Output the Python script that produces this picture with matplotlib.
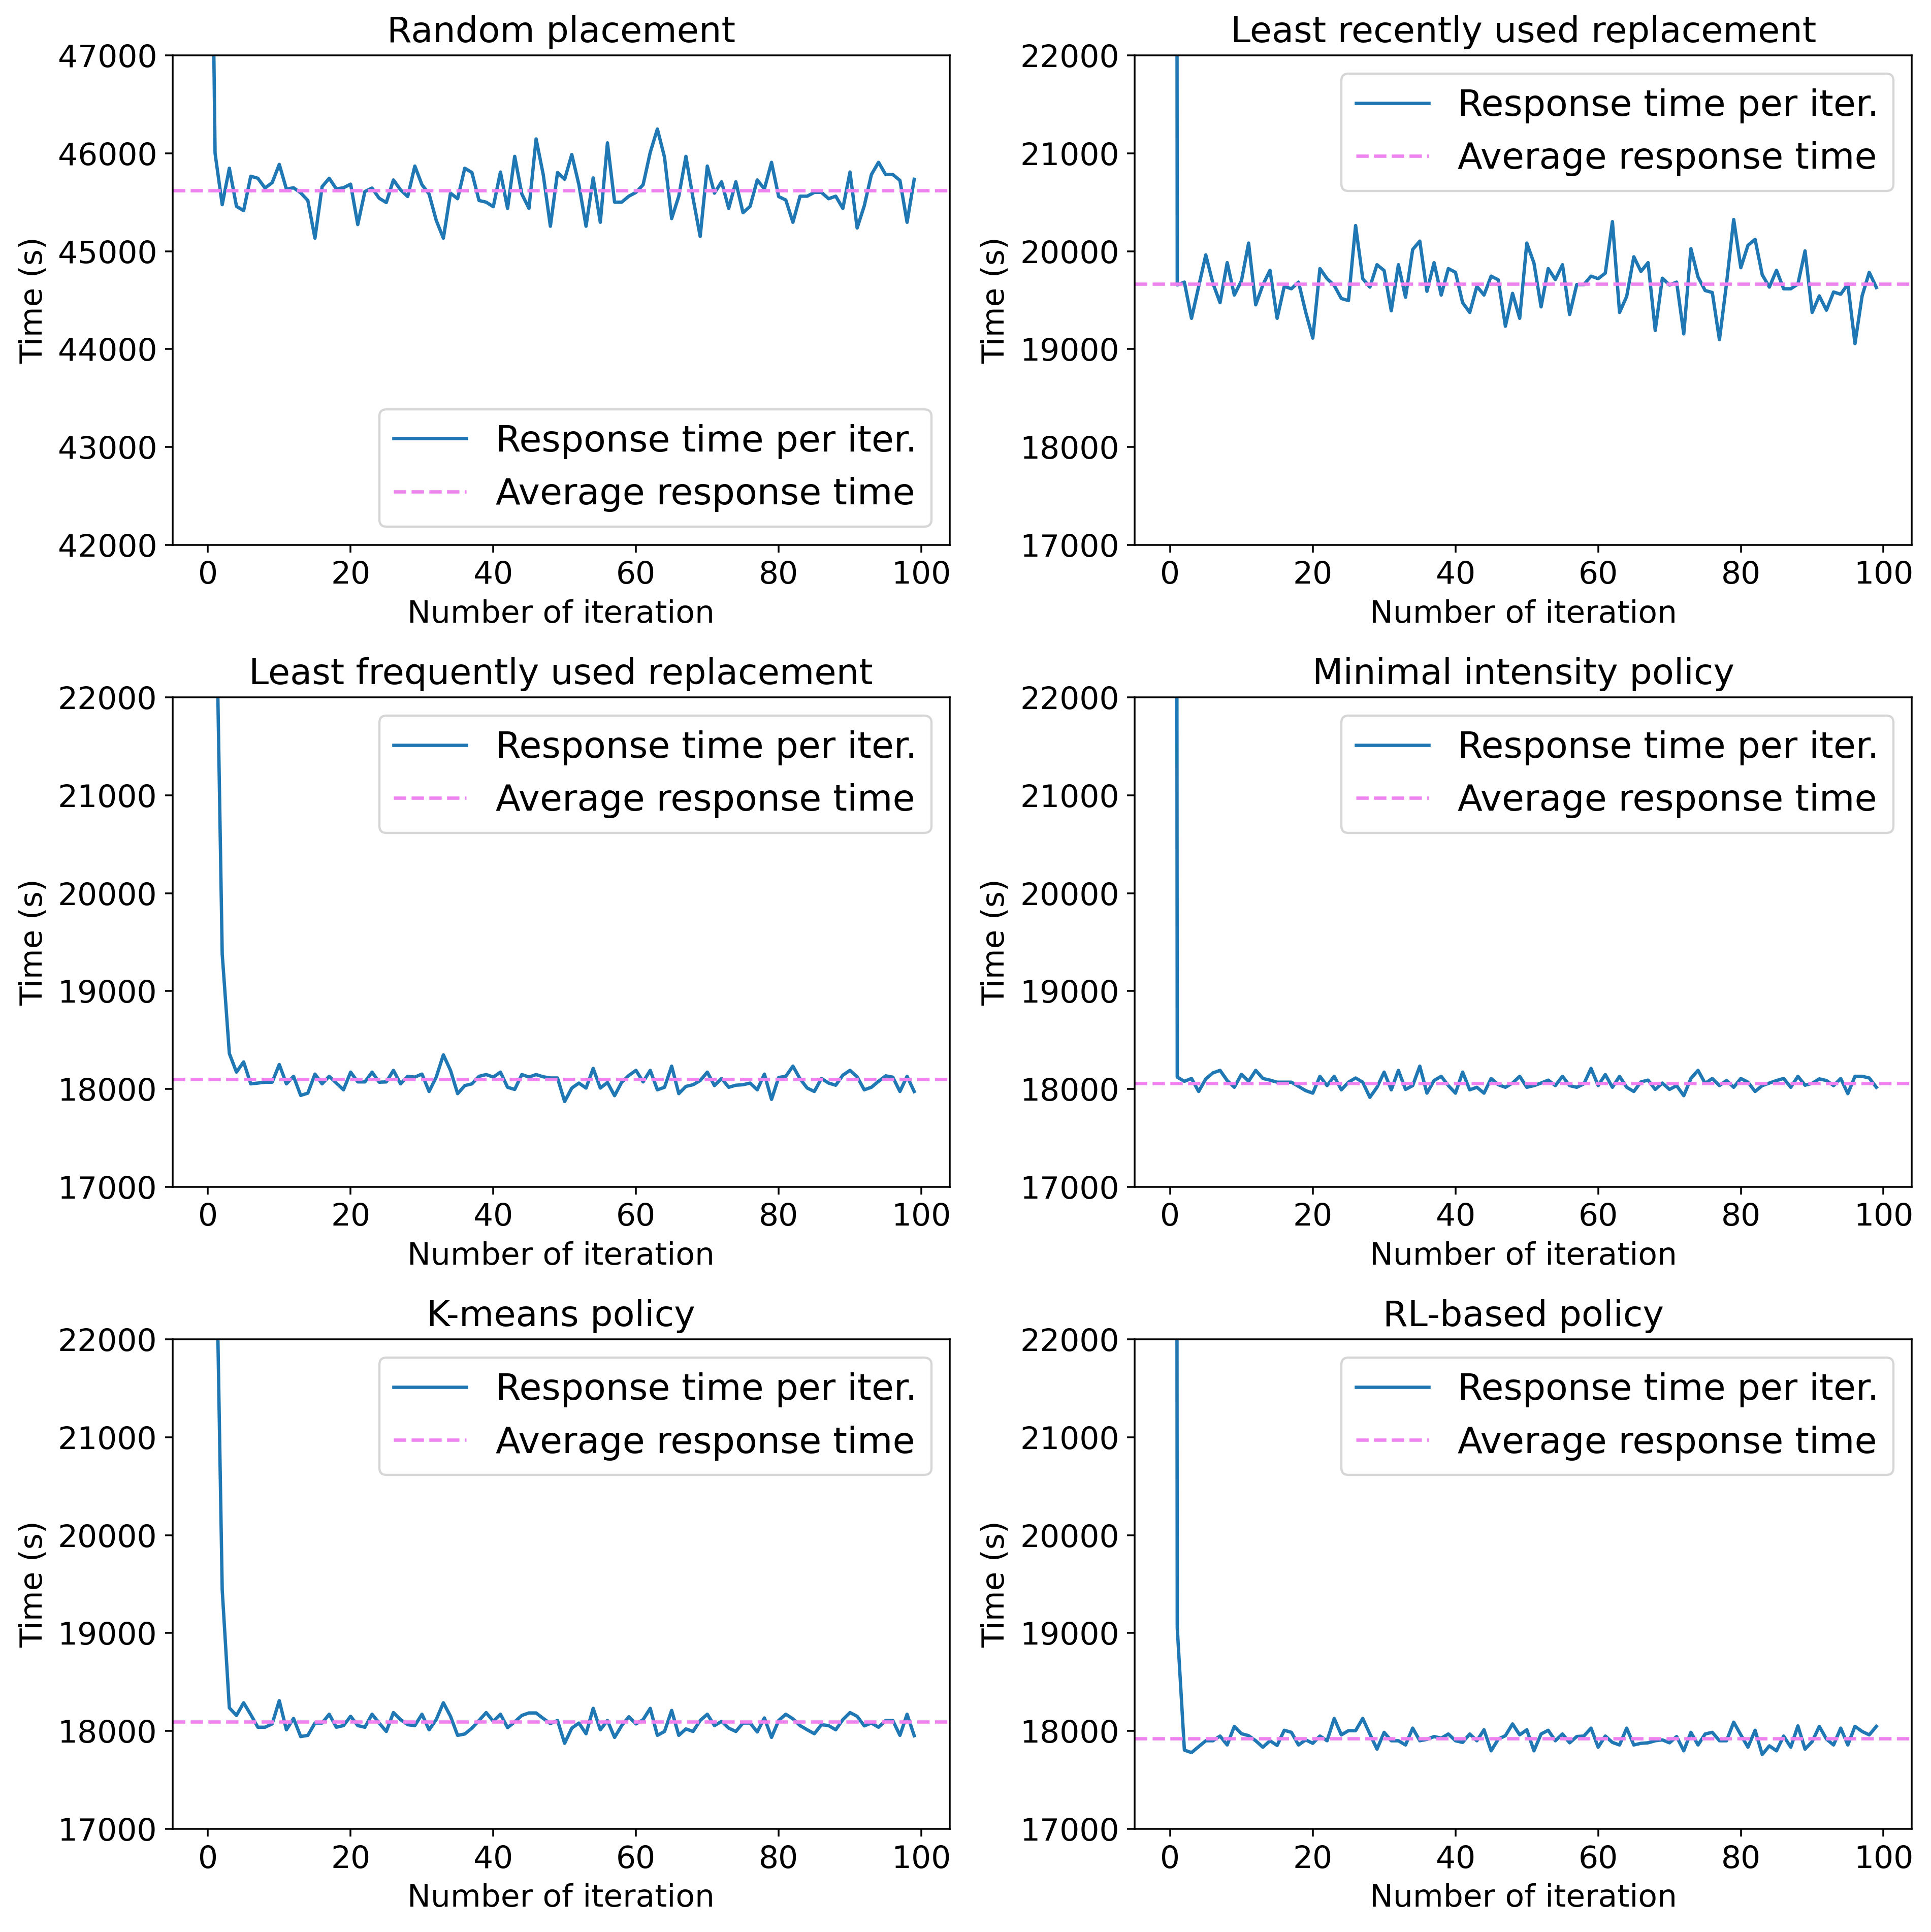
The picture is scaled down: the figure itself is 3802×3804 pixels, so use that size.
import numpy as np
import matplotlib
matplotlib.use('Agg')
import matplotlib.pyplot as plt

# response time per iteration (iterations 0..99)
random_placement = [
    51900, 46000, 45475, 45848, 45458, 45414, 45766, 45745, 45645, 45700,
    45887, 45634, 45648, 45596, 45518, 45133, 45659, 45745, 45636, 45648,
    45685, 45272, 45610, 45645, 45541, 45497, 45728, 45627, 45558, 45870,
    45679, 45584, 45315, 45133, 45593, 45536, 45848, 45804, 45518, 45501,
    45454, 45809, 45437, 45969, 45584, 45437, 46147, 45783, 45255, 45804,
    45735, 45988, 45679, 45255, 45749, 45295, 46107, 45501, 45501, 45562,
    45601, 45679, 46010, 46248, 45960, 45333, 45562, 45969, 45540, 45151,
    45870, 45593, 45709, 45437, 45709, 45393, 45458, 45728, 45636, 45908,
    45558, 45523, 45295, 45562, 45562, 45601, 45601, 45536, 45562, 45437,
    45809, 45237, 45463, 45783, 45908, 45783, 45783, 45723, 45295, 45735,
]
lru = [
    100000, 19655, 19684, 19314, 19638, 19962, 19672, 19474, 19883, 19552,
    19698, 20083, 19452, 19655, 19805, 19314, 19641, 19616, 19684, 19379,
    19112, 19822, 19719, 19650, 19517, 19495, 20262, 19719, 19633, 19862,
    19802, 19391, 19862, 19529, 20017, 20103, 19590, 19883, 19552, 19822,
    19784, 19474, 19374, 19641, 19552, 19745, 19707, 19233, 19569, 19314,
    20083, 19879, 19431, 19822, 19710, 19862, 19353, 19659, 19659, 19745,
    19719, 19776, 20302, 19374, 19538, 19943, 19793, 19883, 19190, 19724,
    19655, 19684, 19155, 20026, 19736, 19598, 19578, 19095, 19672, 20324,
    19831, 20060, 20121, 19759, 19633, 19805, 19616, 19616, 19664, 20003,
    19374, 19543, 19397, 19583, 19560, 19664, 19055, 19543, 19784, 19629,
]
lfu = [
    30000, 23700, 19380, 18362, 18172, 18276, 18052, 18060, 18069, 18069,
    18250, 18052, 18129, 17934, 17957, 18152, 18052, 18129, 18060, 17991,
    18172, 18072, 18072, 18172, 18069, 18072, 18190, 18052, 18129, 18121,
    18152, 17974, 18121, 18348, 18190, 17952, 18034, 18052, 18129, 18147,
    18121, 18172, 18017, 17995, 18147, 18121, 18147, 18124, 18112, 18112,
    17871, 18009, 18060, 18009, 18210, 18009, 18066, 17931, 18069, 18138,
    18190, 18072, 18190, 17991, 18017, 18233, 17952, 18026, 18043, 18086,
    18172, 18034, 18107, 18017, 18038, 18043, 18060, 17991, 18152, 17893,
    18117, 18129, 18233, 18103, 18009, 17974, 18107, 18060, 18038, 18141,
    18190, 18124, 17991, 18017, 18078, 18134, 18120, 17974, 18129, 17974,
]
min_intensity = [
    100000, 18121, 18078, 18107, 17974, 18103, 18164, 18190, 18086, 18017,
    18150, 18078, 18190, 18107, 18090, 18069, 18069, 18069, 18026, 17983,
    17957, 18129, 18034, 18129, 17991, 18069, 18112, 18069, 17914, 18017,
    18172, 17991, 18190, 17995, 18034, 18233, 17957, 18086, 18129, 18034,
    17957, 18172, 17991, 18017, 17957, 18107, 18043, 18017, 18060, 18129,
    18017, 18034, 18060, 18090, 18034, 18129, 18034, 18017, 18052, 18210,
    18034, 18147, 18017, 18129, 18017, 17974, 18072, 18090, 17995, 18060,
    17995, 18034, 17931, 18107, 18190, 18057, 18107, 18034, 18086, 18017,
    18107, 18069, 17974, 18034, 18060, 18086, 18107, 18017, 18129, 18038,
    18057, 18103, 18086, 18034, 18107, 17952, 18129, 18129, 18112, 18017,
]
kmeans = [
    30000, 23700, 19443, 18236, 18159, 18288, 18167, 18038, 18038, 18072,
    18310, 18012, 18128, 17943, 17955, 18081, 18081, 18171, 18038, 18055,
    18150, 18055, 18038, 18171, 18081, 17995, 18188, 18116, 18064, 18055,
    18171, 18012, 18116, 18288, 18150, 17955, 17969, 18029, 18107, 18188,
    18098, 18171, 18034, 18093, 18159, 18184, 18184, 18128, 18076, 18107,
    17874, 18029, 18081, 17972, 18231, 18012, 18107, 17934, 18055, 18145,
    18072, 18116, 18231, 17955, 17995, 18210, 17955, 18021, 17995, 18107,
    18171, 18055, 18098, 18029, 17995, 18081, 18081, 17990, 18133, 17934,
    18107, 18171, 18124, 18055, 18012, 17972, 18064, 18055, 18012, 18116,
    18188, 18150, 18052, 18081, 18038, 18107, 18107, 17955, 18171, 17952,
]
rl_based = [
    100000, 19055, 17805, 17779, 17840, 17900, 17900, 17948, 17857, 18047,
    17972, 17952, 17900, 17834, 17900, 17852, 18007, 17986, 17857, 17909,
    17874, 17948, 17900, 18128, 17960, 18003, 18003, 18128, 17969, 17814,
    17986, 17900, 17900, 17857, 18029, 17900, 17914, 17943, 17926, 17969,
    17900, 17883, 17969, 17900, 18012, 17797, 17917, 17952, 18072, 17960,
    18012, 17797, 17969, 18007, 17900, 17969, 17879, 17943, 17948, 18029,
    17834, 17948, 17883, 17857, 18029, 17857, 17874, 17879, 17900, 17909,
    17879, 17943, 17797, 17986, 17857, 17969, 17986, 17900, 17900, 18090,
    17960, 17834, 18007, 17759, 17848, 17797, 17948, 17834, 18052, 17814,
    17891, 18047, 17917, 17857, 18029, 17857, 18047, 17995, 17960, 18047,
]

titles = ['Random placement', 'Least recently used replacement',
          'Least frequently used replacement', 'Minimal intensity policy',
          'K-means policy', 'RL-based policy']
series = [random_placement, lru, lfu, min_intensity, kmeans, rl_based]
averages = [45622, 19667, 18098, 18060, 18095, 17922]
ylims = [(42000, 47000)] + [(17000, 22000)] * 5
legend_locs = ['lower right'] + ['upper right'] * 5

dpi = 316
fig, axes = plt.subplots(3, 2, figsize=(3802 / dpi, 3804 / dpi))
fig.subplots_adjust(left=0.0894, right=0.990, top=0.9713, bottom=0.0534,
                    wspace=0.2385, hspace=0.312)

for ax, title, y, avg, ylim, loc in zip(axes.flat, titles, series, averages,
                                        ylims, legend_locs):
    x = np.arange(len(y))
    ax.plot(x, y, color='#1f77b4', linewidth=1.5, label='Response time per iter.')
    ax.axhline(avg, color='violet', linestyle='--', linewidth=1.5,
               label='Average response time')
    ax.set_ylim(*ylim)
    ax.set_title(title, fontsize=16)
    ax.set_xlabel('Number of iteration', fontsize=14)
    ax.set_ylabel('Time (s)', fontsize=14)
    ax.tick_params(labelsize=14)
    ax.legend(loc=loc, fontsize=16.3)

plt.savefig('out.png', dpi=dpi)
